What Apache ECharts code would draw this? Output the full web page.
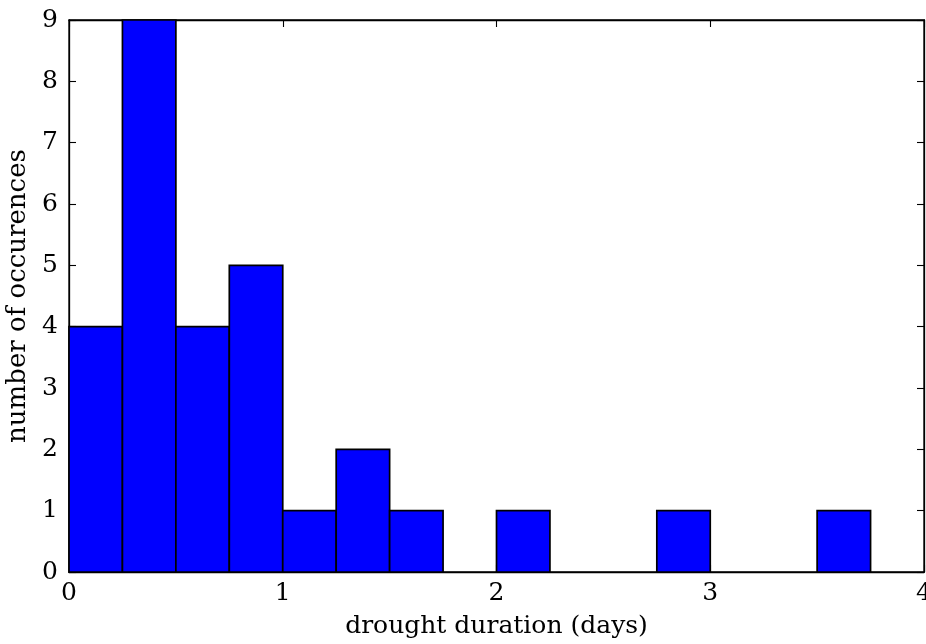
<!DOCTYPE html>
<html>
<head>
<meta charset="utf-8">
<script src="https://cdn.jsdelivr.net/npm/echarts@6/dist/echarts.min.js"></script>
<style>
html,body{margin:0;padding:0;background:#fff;}
#chart{width:926px;height:644px;}
</style>
</head>
<body>
<div id="chart"></div>
<script>
// histogram bin edges (days) and counts
var binStarts = [0, 0.25, 0.5, 0.75, 1, 1.25, 1.5, 1.75, 2, 2.25, 2.5, 2.75, 3, 3.25, 3.5, 3.75];
var binWidth = 0.25;
var counts = [4, 9, 4, 5, 1, 2, 1, 0, 1, 0, 0, 1, 0, 0, 1, 0];
var xTicks = [0, 1, 2, 3, 4];
var yTicks = [0, 1, 2, 3, 4, 5, 6, 7, 8, 9];
var xLabel = 'drought duration (days)';
var yLabel = 'number of occurences';

var FONT = 'DejaVu Serif';
var data = binStarts.map(function (s, i) { return [s, s + binWidth, counts[i]]; });

var chart = echarts.init(document.getElementById('chart'), null, {renderer: 'canvas'});
var axisLine = {show: true, onZero: false, lineStyle: {color: '#000', width: 1.3}};
var tickIn = {show: true, inside: true, length: 7, lineStyle: {color: '#000', width: 1.1}};
chart.setOption({
  animation: false,
  backgroundColor: '#fff',
  grid: {left: 69, right: 2, top: 20, bottom: 72, containLabel: false, outerBoundsMode: 'none',
         show: true, borderColor: '#000', borderWidth: 1.3, backgroundColor: 'transparent'},
  xAxis: [{
    type: 'value', min: 0, max: 4, interval: 1,
    axisLine: axisLine, axisTick: tickIn, splitLine: {show: false},
    axisLabel: {color: '#000', fontFamily: FONT, fontSize: 25, margin: 9, showMaxLabel: true, hideOverlap: false},
    name: xLabel, nameLocation: 'middle', nameGap: 42,
    nameTextStyle: {color: '#000', fontFamily: FONT, fontSize: 25}
  }, {
    type: 'value', min: 0, max: 4, interval: 1, position: 'top', show: true,
    axisLine: axisLine, axisTick: tickIn, axisLabel: {show: false}, splitLine: {show: false}
  }],
  yAxis: [{
    type: 'value', min: 0, max: 9, interval: 1,
    axisLine: axisLine, axisTick: tickIn, splitLine: {show: false},
    axisLabel: {color: '#000', fontFamily: FONT, fontSize: 25, margin: 11, hideOverlap: false},
    name: yLabel, nameLocation: 'middle', nameGap: 32,
    nameTextStyle: {color: '#000', fontFamily: FONT, fontSize: 26}
  }, {
    type: 'value', min: 0, max: 9, interval: 1, position: 'right', show: true,
    axisLine: axisLine, axisTick: tickIn, axisLabel: {show: false}, splitLine: {show: false}
  }],
  series: [{
    type: 'custom',
    encode: {x: [0, 1], y: 2},
    data: data,
    renderItem: function (params, api) {
      var h = api.value(2);
      if (!h) return null;
      var p0 = api.coord([api.value(0), 0]);
      var p1 = api.coord([api.value(1), h]);
      return {
        type: 'rect',
        shape: {x: p0[0], y: p1[1], width: p1[0] - p0[0], height: p0[1] - p1[1]},
        style: {fill: '#0000ff', stroke: '#000', lineWidth: 1.7}
      };
    }
  }, {
    type: 'line', xAxisIndex: 1, yAxisIndex: 1, data: [], silent: true
  }]
});
</script>
</body>
</html>
